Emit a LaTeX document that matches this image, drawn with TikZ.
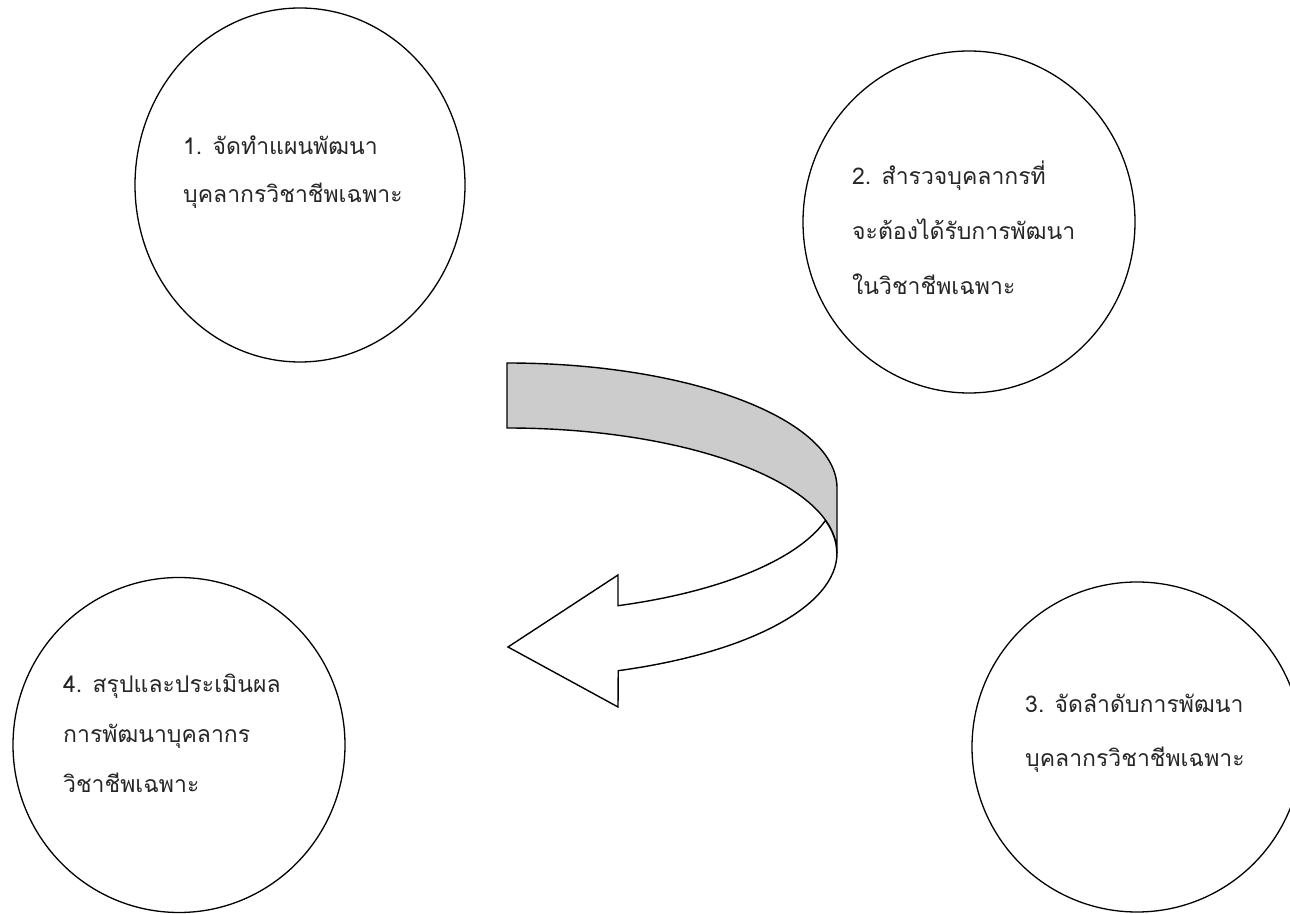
\documentclass[tikz,border=0pt]{standalone}
\usepackage{fontspec}
\usetikzlibrary{shapes.geometric}
\newfontfamily\thaifont[Script=Thai]{Loma}
\begin{document}
\begin{tikzpicture}[x=1pt,y=1pt,
  circ/.style={draw=black,line width=1.3pt,ellipse,inner sep=0pt},
  lbl/.style={anchor=base west,inner sep=0pt,text=black!85,font=\thaifont\fontsize{23}{23}\selectfont},
  band/.style={draw=black,line width=1.4pt,line join=miter}]
\useasboundingbox (0,0) rectangle (1290,913);
% circles
\node[circ,minimum width=330pt,minimum height=354pt] (c1) at (300,728) {};
\node[circ,minimum width=332pt,minimum height=342pt] (c2) at (969,691) {};
\node[circ,minimum width=330pt,minimum height=330pt] (c3) at (1137,166) {};
\node[circ,minimum width=332pt,minimum height=335pt] (c4) at (179,168) {};
% texts
\node[lbl] (t1) at (183,758) {\vtop{\baselineskip=48pt\hbox{1. จัดทำแผนพัฒนา}\hbox{บุคลากรวิชาชีพเฉพาะ}}};
\node[lbl] (t2) at (852,728) {\vtop{\baselineskip=55pt\hbox{2. สำรวจบุคลากรที่}\hbox{จะต้องได้รับการพัฒนา}\hbox{ในวิชาชีพเฉพาะ}}};
\node[lbl] (t3) at (1025,200) {\vtop{\baselineskip=54pt\hbox{3. จัดลำดับการพัฒนา}\hbox{บุคลากรวิชาชีพเฉพาะ}}};
\node[lbl] (t4) at (63,220) {\vtop{\baselineskip=50pt\hbox{4. สรุปและประเมินผล}\hbox{การพัฒนาบุคลากร}\hbox{วิชาชีพเฉพาะ}}};
% curved arrow
\fill[gray!40] (507,550) arc[start angle=90,end angle=0,x radius=330pt,y radius=125pt]
  -- (837,360) arc[start angle=0,end angle=90,x radius=330pt,y radius=125pt] -- cycle;
\draw[band] (507,550) arc[start angle=90,end angle=0,x radius=330pt,y radius=125pt]
  -- (837,360) arc[start angle=0,end angle=90,x radius=330pt,y radius=125pt] -- cycle;
\draw[band,fill=white] (837,360) arc[start angle=0,end angle=-70.3,x radius=330pt,y radius=125pt]
  -- (618,206) -- (508,266) -- (618,338) -- (618,307.3)
  arc[start angle=-70.3,end angle=-15.07,x radius=330pt,y radius=125pt]
  arc[start angle=15.07,end angle=0,x radius=330pt,y radius=125pt] -- cycle;
\end{tikzpicture}
\end{document}
